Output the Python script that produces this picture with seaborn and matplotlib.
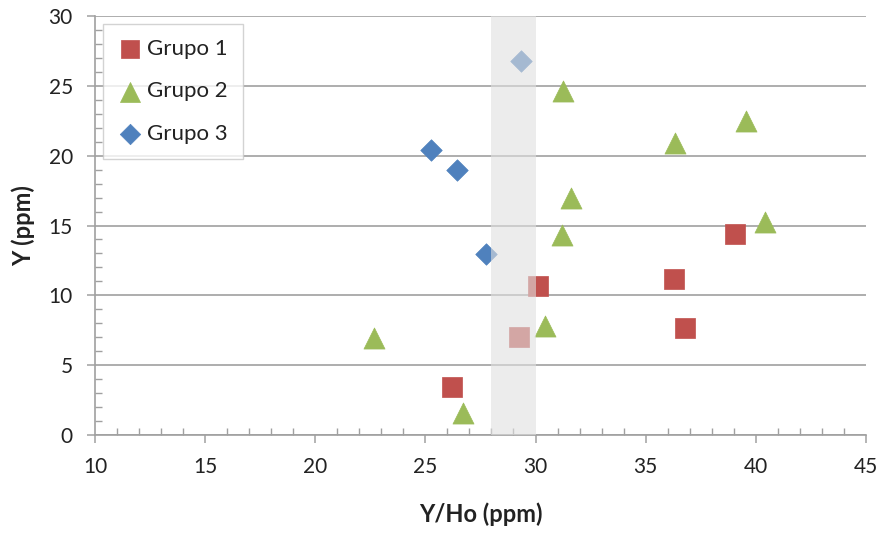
import matplotlib
matplotlib.use("Agg")
import matplotlib.pyplot as plt
from matplotlib.ticker import MultipleLocator
import seaborn as sns
import pandas as pd

# ---- data ----
grupo1_x = [26.2, 29.25, 30.1, 36.3, 36.8, 39.05]
grupo1_y = [3.45, 7.0, 10.7, 11.2, 7.65, 14.4]
grupo2_x = [22.65, 26.7, 30.45, 31.2, 31.6, 31.25, 36.35, 39.55, 40.4]
grupo2_y = [6.95, 1.6, 7.8, 14.3, 17.0, 24.6, 20.9, 22.5, 15.25]
grupo3_x = [25.25, 26.45, 27.75, 29.35]
grupo3_y = [20.4, 19.0, 12.95, 26.8]
group_names = ["Grupo 1", "Grupo 2", "Grupo 3"]
band_range = [28, 30]

df = pd.concat([
    pd.DataFrame({"x": grupo1_x, "y": grupo1_y, "grupo": group_names[0]}),
    pd.DataFrame({"x": grupo2_x, "y": grupo2_y, "grupo": group_names[1]}),
    pd.DataFrame({"x": grupo3_x, "y": grupo3_y, "grupo": group_names[2]}),
], ignore_index=True)

sns.set_style("white")
plt.rcParams["font.family"] = ["Lato", "DejaVu Sans"]

fig = plt.figure(figsize=(8.83, 5.33), dpi=100)
ax = fig.add_axes([0.1076, 0.1839, 0.873, 0.786])

palette = {"Grupo 1": "#C0504D", "Grupo 2": "#9BBB59", "Grupo 3": "#4F81BD"}
markers = {"Grupo 1": "s", "Grupo 2": "^", "Grupo 3": "D"}
sizes_map = {"Grupo 1": 190, "Grupo 2": 230, "Grupo 3": 120}

for g in group_names:
    sub = df[df["grupo"] == g]
    sns.scatterplot(data=sub, x="x", y="y", color=palette[g], marker=markers[g],
                    s=sizes_map[g], edgecolor=palette[g], linewidth=0.5,
                    ax=ax, label=g, zorder=2)

ax.axvspan(band_range[0], band_range[1], color="#e0e0e0", alpha=0.6, zorder=3, lw=0)

ax.set_xlim(10, 45)
ax.set_ylim(0, 30)
ax.xaxis.set_major_locator(MultipleLocator(5))
ax.xaxis.set_minor_locator(MultipleLocator(1))
ax.yaxis.set_major_locator(MultipleLocator(5))
ax.yaxis.set_minor_locator(MultipleLocator(1))

ax.grid(axis="y", which="major", color="#a0a0a0", lw=1.2, zorder=0)
ax.grid(axis="x", visible=False)
ax.set_axisbelow(True)

for s in ["top", "right"]:
    ax.spines[s].set_visible(False)
for s in ["left", "bottom"]:
    ax.spines[s].set_color("#a0a0a0")
    ax.spines[s].set_linewidth(1.2)

ax.tick_params(axis="x", which="both", bottom=True)
ax.tick_params(axis="y", which="both", left=True)
ax.tick_params(axis="x", which="major", direction="out", length=6, width=1.1,
               color="#a0a0a0", labelsize=15, pad=10, labelcolor="#222222")
ax.tick_params(axis="x", which="minor", direction="in", length=5, width=1,
               color="#a0a0a0")
ax.tick_params(axis="y", which="major", direction="out", length=6, width=1.1,
               color="#a0a0a0", labelsize=15, pad=10, labelcolor="#222222")
ax.tick_params(axis="y", which="minor", direction="in", length=5, width=1,
               color="#a0a0a0")

ax.set_xlabel("Y/Ho (ppm)", fontsize=17, fontweight="bold", labelpad=18, color="#222222")
ax.set_ylabel("Y (ppm)", fontsize=17, fontweight="bold", labelpad=10, color="#222222")

leg = ax.legend(loc="upper left", bbox_to_anchor=(0.01, 0.982), fontsize=16,
                frameon=True, fancybox=False, edgecolor="#c8c8c8",
                handletextpad=0.2, labelspacing=1.0, borderpad=0.7,
                borderaxespad=0, handlelength=1.1, markerscale=0.95)
leg.get_frame().set_linewidth(1.0)
leg.set_zorder(5)
for t in leg.get_texts():
    t.set_color("#222222")

fig.savefig("out.png", dpi=100)
